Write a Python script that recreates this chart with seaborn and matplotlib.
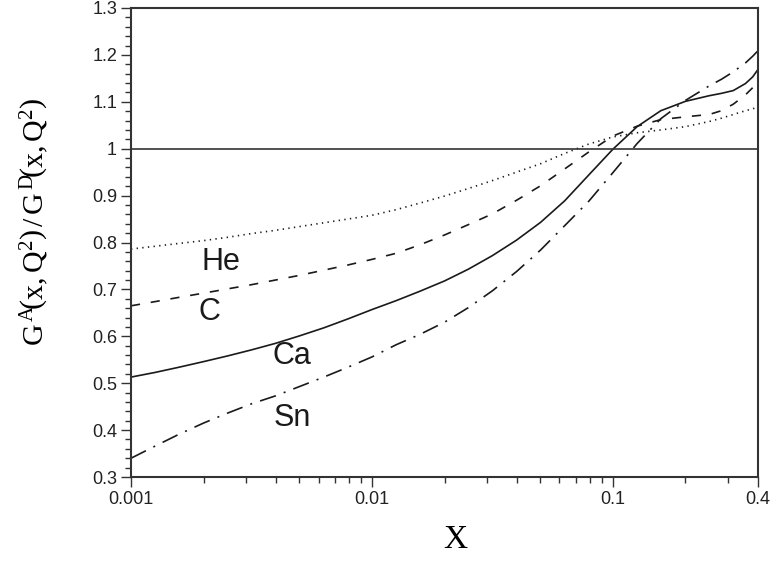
import numpy as np
import pandas as pd
import matplotlib
matplotlib.use("Agg")
import matplotlib.pyplot as plt
import seaborn as sns
from matplotlib.ticker import FixedLocator, FuncFormatter, MultipleLocator

# ---- data ----
x_vals = [0.001, 0.00126, 0.00158, 0.002, 0.00251, 0.00316, 0.00398, 0.00501,
          0.00631, 0.00794, 0.01, 0.0126, 0.0158, 0.02, 0.0251, 0.0316, 0.0398,
          0.0501, 0.0631, 0.0794, 0.1, 0.126, 0.158, 0.2, 0.251, 0.282, 0.316,
          0.355, 0.38, 0.4]
he_vals = [0.786, 0.792, 0.798, 0.804, 0.811, 0.819, 0.826, 0.834, 0.842, 0.850,
           0.858, 0.870, 0.884, 0.899, 0.915, 0.932, 0.950, 0.968, 0.990, 1.010,
           1.025, 1.034, 1.040, 1.047, 1.058, 1.065, 1.073, 1.081, 1.085, 1.089]
c_vals = [0.665, 0.674, 0.683, 0.692, 0.701, 0.710, 0.720, 0.730, 0.741, 0.752,
          0.764, 0.777, 0.795, 0.816, 0.838, 0.861, 0.890, 0.921, 0.957, 0.993,
          1.027, 1.048, 1.062, 1.068, 1.073, 1.081, 1.095, 1.115, 1.130, 1.143]
ca_vals = [0.513, 0.523, 0.534, 0.546, 0.558, 0.571, 0.585, 0.601, 0.618, 0.637,
           0.657, 0.676, 0.696, 0.718, 0.743, 0.772, 0.805, 0.843, 0.889, 0.944,
           0.999, 1.047, 1.081, 1.101, 1.113, 1.118, 1.124, 1.139, 1.153, 1.169]
sn_vals = [0.340, 0.366, 0.391, 0.415, 0.436, 0.456, 0.473, 0.493, 0.513, 0.534,
           0.556, 0.582, 0.604, 0.630, 0.661, 0.697, 0.738, 0.784, 0.836, 0.888,
           0.949, 1.011, 1.064, 1.103, 1.134, 1.148, 1.164, 1.183, 1.197, 1.209]
nuclei = ["He", "C", "Ca", "Sn"]
label_x = [0.00236, 0.00211, 0.00466, 0.00469]
label_y = [0.758, 0.651, 0.558, 0.425]
x_ticks = [0.001, 0.01, 0.1, 0.4]
x_ticklabels = ["0.001", "0.01", "0.1", "0.4"]

series = {"He": he_vals, "C": c_vals, "Ca": ca_vals, "Sn": sn_vals}
df = pd.concat([pd.DataFrame({"x": x_vals, "ratio": v, "nucleus": k})
                for k, v in series.items()], ignore_index=True)

sns.set_theme(style="white")
plt.rcParams["font.family"] = ["Liberation Sans", "DejaVu Sans"]
plt.rcParams["mathtext.fontset"] = "custom"
plt.rcParams["mathtext.rm"] = "Liberation Serif"
plt.rcParams["mathtext.it"] = "Liberation Serif:italic"

fig = plt.figure(figsize=(7.77, 5.65), dpi=100)
ax = fig.add_axes([131 / 777, 1 - 477 / 565, (758 - 131) / 777, (477 - 8) / 565])

ink = "#1a1a1a"
dashes = {"He": (0.8, 2.6), "C": (5.5, 6.5), "Ca": "", "Sn": (10, 5, 1.2, 5)}
sns.lineplot(data=df, x="x", y="ratio", hue="nucleus", style="nucleus",
             palette={n: ink for n in nuclei}, dashes=dashes, linewidth=1.2,
             legend=False, ax=ax, sort=True)
ax.axhline(1.0, color="#333333", lw=1.2)

ax.set_xscale("log")
ax.set_xlim(0.001, 0.4)
ax.set_ylim(0.3, 1.3)

ax.xaxis.set_major_locator(FixedLocator(x_ticks))
ax.xaxis.set_major_formatter(FuncFormatter(
    lambda v, p: x_ticklabels[min(range(len(x_ticks)), key=lambda i: abs(np.log10(x_ticks[i]) - np.log10(v)))]))
minors = [m * 10.0 ** e for e in (-3, -2, -1) for m in range(2, 10)]
minors = [m for m in minors if m < 0.4 and not any(abs(m - t) < 1e-12 for t in x_ticks)]
ax.xaxis.set_minor_locator(FixedLocator(minors))
ax.xaxis.set_minor_formatter(FuncFormatter(lambda v, p: ""))

ax.yaxis.set_major_locator(MultipleLocator(0.1))
ax.yaxis.set_minor_locator(MultipleLocator(0.02))
ax.yaxis.set_major_formatter(FuncFormatter(lambda v, p: "%g" % round(v, 2)))

ax.tick_params(axis="both", which="major", direction="out", length=7, width=1,
               color="#333333", labelsize=13, labelcolor="#222222", pad=3,
               bottom=True, left=True, top=False, right=False)
ax.tick_params(axis="both", which="minor", direction="out", length=4, width=1,
               color="#333333", bottom=True, left=True, top=False, right=False)

for s in ax.spines.values():
    s.set_color("#333333")
    s.set_linewidth(1.5)

for name, lx, ly in zip(nuclei, label_x, label_y):
    ax.text(lx, ly, name, fontsize=22, ha="center", va="center", color=ink)

ax.set_xlabel("")
ax.set_ylabel("")
fig.text(455 / 777, 1 - 540 / 565, "X", fontsize=24, family="Liberation Serif",
         ha="center", va="center", color="black")
fig.text(35 / 777, 1 - 222 / 565,
         r"$\mathrm{G^{\,A}\!\left(x,Q^{2}\right)\,/\,G^{\,D}\!\left(x,Q^{2}\right)}$",
         fontsize=21.5, rotation=90, ha="center", va="center", color="black")

fig.savefig("out.png", dpi=100)
